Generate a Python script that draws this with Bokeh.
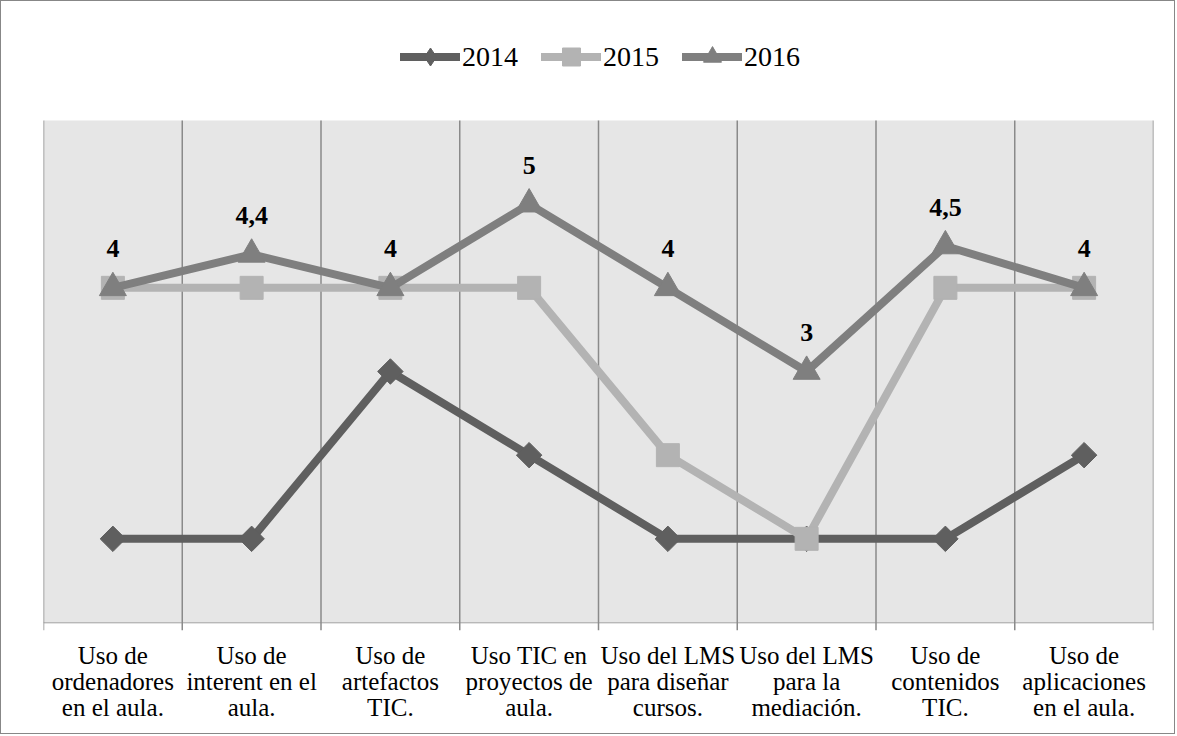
import numpy as np
from bokeh.plotting import figure
from bokeh.models import Range1d, FixedTicker, Legend, LegendItem
from bokeh.core.properties import value
from bokeh.embed import file_html
from bokeh.resources import INLINE

# Survey items (x categories), one line per year
categories = [
    "Uso de\nordenadores\nen el aula.",
    "Uso de\ninterent en el\naula.",
    "Uso de\nartefactos\nTIC.",
    "Uso TIC en\nproyectos de\naula.",
    "Uso del LMS\npara diseñar\ncursos.",
    "Uso del LMS\npara la\nmediación.",
    "Uso de\ncontenidos\nTIC.",
    "Uso de\naplicaciones\nen el aula.",
]
years = ["2014", "2015", "2016"]
values_2014 = [1, 1, 3, 2, 1, 1, 1, 2]
values_2015 = [4, 4, 4, 4, 2, 1, 4, 4]
values_2016 = [4, 4.4, 4, 5, 4, 3, 4.5, 4]

FONT = "'Liberation Serif', serif"
xs = [i + 0.5 for i in range(len(categories))]
n = len(categories)
y_top = 6.0
y_min = -0.0956
y_max = 7.4223  # headroom above the grey area for the legend

p = figure(
    width=1175, height=734,
    x_range=Range1d(0, n), y_range=Range1d(y_min, y_max),
    output_backend="svg", toolbar_location=None, y_axis_location=None,
    min_border_left=42, min_border_right=23, min_border_top=0, min_border_bottom=105,
)
p.styles = {"border": "1px solid #878787"}
p.background_fill_color = "white"
p.border_fill_color = "white"
p.outline_line_color = None

# grey plot area
p.quad(left=0, right=n, bottom=0, top=y_top, fill_color="#e6e6e6", line_color=None)

# category separators, running a little below the baseline as ticks
bounds = list(range(n + 1))
p.segment(x0=bounds, y0=[y_min] * len(bounds), x1=bounds, y1=[y_top] * len(bounds),
          line_color="#8a8a8a", line_width=1.5)
p.xgrid.visible = False
p.ygrid.ticker = FixedTicker(ticks=[0])
p.ygrid.grid_line_color = "#8a8a8a"
p.ygrid.grid_line_width = 1.5

ax = p.xaxis[0]
ax.ticker = FixedTicker(ticks=xs)
ax.major_label_overrides = {x: c for x, c in zip(xs, categories)}
ax.axis_line_color = None
ax.major_tick_line_color = None
ax.minor_tick_line_color = None
ax.major_label_text_font = FONT
ax.major_label_text_font_size = "25px"
ax.major_label_text_line_height = 0.97
ax.major_label_text_color = "black"
ax.major_label_standoff = 5

styles = [
    (values_2014, "#5f5f5f", dict(marker="square", size=18, angle=np.pi / 4), "diamond"),
    (values_2015, "#b3b3b3", dict(marker="square", size=23), "square"),
    (values_2016, "#7f7f7f", dict(marker="triangle", size=27), "triangle"),
]
items = []
for name, (vals, color, mk, legend_marker) in zip(years, styles):
    rl = p.line(xs, vals, line_color=color, line_width=8, line_cap="round")
    p.scatter(xs, vals, fill_color=color, line_color=color, **mk)
    # marker used for the legend key only (its point lies outside the visible range)
    rk = p.scatter(x=[-10], y=[-10], marker=legend_marker, fill_color=color, line_color=color)
    items.append(LegendItem(label=name, renderers=[rl, rk]))

# value labels for 2016
labels_2016 = [f"{v:g}".replace(".", ",") for v in values_2016]
p.text(xs, values_2016, text=labels_2016, text_font=value(FONT), text_font_style="bold",
       text_font_size="26px", text_align="center", text_baseline="alphabetic",
       y_offset=-39, text_color="black")

legend = Legend(
    items=items, orientation="horizontal", location=(357, 551),
    label_text_font=FONT, label_text_font_size="28px", label_text_color="black",
    spacing=23, label_standoff=2, glyph_width=60, glyph_height=45, label_height=45,
    padding=0, margin=0, border_line_color=None, background_fill_alpha=0,
)
p.add_layout(legend)

open("out.html", "w").write(file_html(p, INLINE))
